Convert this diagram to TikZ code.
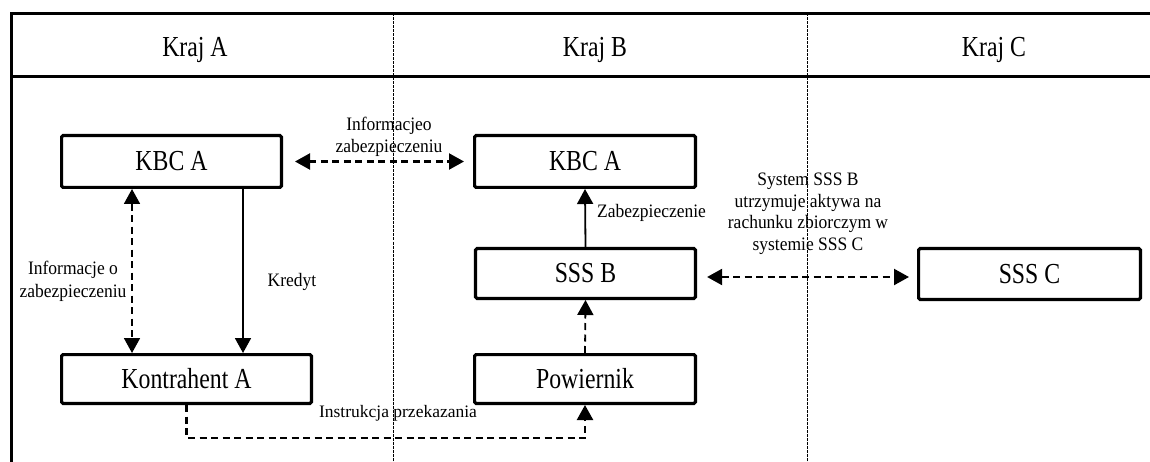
\documentclass[tikz,border=0pt]{standalone}
\usepackage{fontspec}
\setmainfont{Liberation Serif}[FakeStretch=0.82]
\newfontfamily\smallfnt{Liberation Serif}[FakeStretch=0.92]
\newfontfamily\instrfnt{Liberation Serif}
\usetikzlibrary{arrows.meta,calc}
\tikzset{
  frameline/.style={line width=3pt},
  sepline/.style={line width=0.9pt, dash pattern=on 3pt off 1pt},
  hdr/.style={anchor=base, font=\fontsize{29}{32}\selectfont},
  box/.style={draw, line width=3.2pt, rounded corners=1.5pt, inner sep=0pt,
    font=\fontsize{29}{32}\selectfont},
  lbl/.style={align=center, inner sep=0pt, font=\smallfnt\fontsize{19}{22.5}\selectfont},
  tip/.style={-{Triangle[length=15pt,width=16pt]}},
  dtip/.style={{Triangle[length=15pt,width=16pt]}-{Triangle[length=15pt,width=16pt]}},
  dline/.style={line width=2.2pt, dash pattern=on 7pt off 4.5pt},
  sline/.style={line width=1.8pt},
}
\begin{document}
\begin{tikzpicture}[x=1pt,y=-1pt]
\useasboundingbox (0,0) rectangle (1150,462);
% frame
\draw[frameline] (11.5,462) -- (11.5,13.5) -- (1150,13.5);
\draw[frameline] (10,76.5) -- (1150,76.5);
\draw[sepline] (393,13.5) -- (393,462);
\draw[sepline] (807,13.5) -- (807,462);
% headers
\node[hdr] (ha) at (195,57) {Kraj A};
\node[hdr] (hb) at (595,57) {Kraj B};
\node[hdr] (hc) at (994,57) {Kraj C};
% boxes
\node[box, minimum width=219.8pt, minimum height=51.8pt] (kbcA) at (171.5,161.5) {KBC A};
\node[box, minimum width=220.8pt, minimum height=51.8pt] (kbcB) at (585,161.5) {KBC A};
\node[box, minimum width=220pt, minimum height=49.8pt] (sssb) at (585.5,273.5) {SSS B};
\node[box, minimum width=221.8pt, minimum height=50.8pt] (sssc) at (1029.5,274) {SSS C};
\node[box, minimum width=249.8pt, minimum height=48.8pt] (kon) at (186.5,379) {Kontrahent A};
\node[box, minimum width=220.8pt, minimum height=48.8pt] (pow) at (585,379) {Powiernik};
% helper coordinates
\coordinate (xl) at (132,0);
\coordinate (xk) at (243,0);
\coordinate (ys) at (0,277);
\coordinate (yb) at (0,438);
% connectors
\draw[dline, line width=1.8pt, dtip] (kbcA.south -| xl) -- (kon.north -| xl);
\draw[sline, tip] (kbcA.south -| xk) -- (kon.north -| xk);
\draw[dline, dtip, shorten <=12pt, shorten >=9pt] (kbcA.east) -- (kbcB.west);
\draw[sline, tip] (sssb.north) -- (kbcB.south);
\draw[dline, line width=1.8pt, tip] (pow.north) -- (sssb.south);
\draw[dline, dtip, shorten <=10pt, shorten >=8pt] (sssb.east |- ys) -- (sssc.west |- ys);
\draw[dline, tip] (kon.south) |- (pow.south |- yb) -- (pow.south);
% labels
\node[lbl] (l1) at (73,281.5) {Informacje o\\zabezpieczeniu};
\node[lbl] (l2) at (292,282) {Kredyt};
\node[lbl] (l3) at (389,137) {Informacjeo\\zabezpieczeniu};
\node[lbl, anchor=west] (l4) at (597,213) {Zabezpieczenie};
\node[lbl, font=\smallfnt\fontsize{19}{21.5}\selectfont] (l5) at (808,214) {System SSS B\\utrzymuje aktywa na\\rachunku zbiorczym w\\systemie SSS C};
\node[inner sep=0pt, font=\instrfnt\fontsize{17.5}{20}\selectfont] (l6) at (398,413) {Instrukcja przekazania};
\end{tikzpicture}
\end{document}
